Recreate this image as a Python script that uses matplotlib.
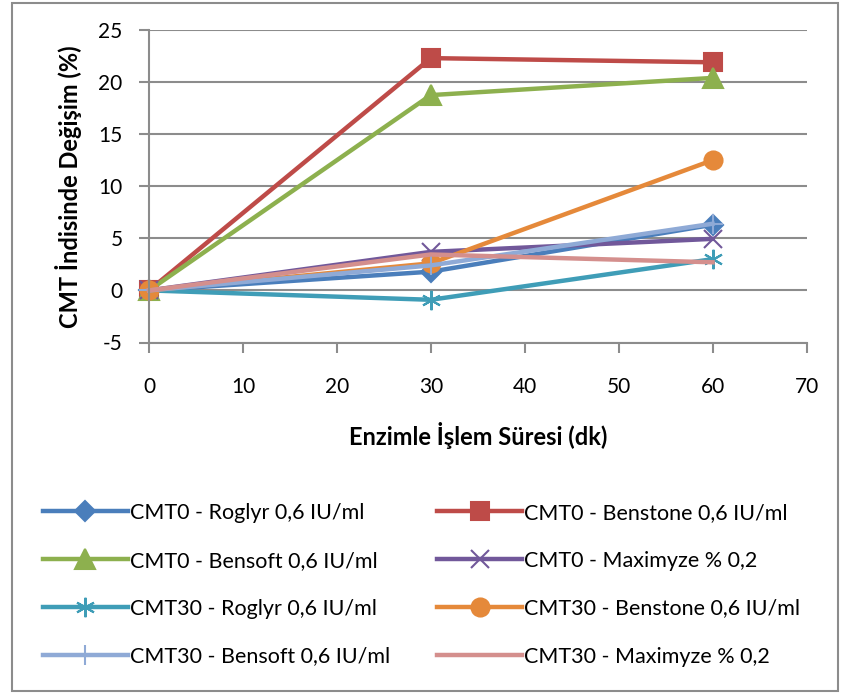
import matplotlib
matplotlib.use("Agg")
import matplotlib.pyplot as plt
from matplotlib.patches import Rectangle

plt.rcParams['font.family'] = ['Lato', 'DejaVu Sans']

time_min = [0, 30, 60]
labels = [
    "CMT0 - Roglyr 0,6 IU/ml",
    "CMT0 - Benstone 0,6 IU/ml",
    "CMT0 - Bensoft 0,6 IU/ml",
    "CMT0 - Maximyze % 0,2",
    "CMT30 - Roglyr 0,6 IU/ml",
    "CMT30 - Benstone 0,6 IU/ml",
    "CMT30 - Bensoft 0,6 IU/ml",
    "CMT30 - Maximyze % 0,2",
]
cmt0_roglyr = [0, 1.8, 6.3]
cmt0_benstone = [0, 22.3, 21.9]
cmt0_bensoft = [0, 18.75, 20.4]
cmt0_maximyze = [0, 3.7, 4.95]
cmt30_roglyr = [0, -0.9, 3.0]
cmt30_benstone = [0, 2.6, 12.5]
cmt30_bensoft = [0, 2.4, 6.4]
cmt30_maximyze = [0, 3.45, 2.7]
series = [cmt0_roglyr, cmt0_benstone, cmt0_bensoft, cmt0_maximyze,
          cmt30_roglyr, cmt30_benstone, cmt30_bensoft, cmt30_maximyze]
x_ticks = [0, 10, 20, 30, 40, 50, 60, 70]
y_ticks = [-5, 0, 5, 10, 15, 20, 25]

colors = ["#4A7EBB", "#BE4B48", "#8DB04E", "#71589A",
          "#3F9DB7", "#E5893A", "#8FAAD6", "#D48F8D"]
markers = ["D", "s", "^", "x", (6, 2, 0), "o", "+", None]
msizes = [10, 13, 14, 13, 14, 13, 14, 0]

W, H = 842, 693
fig = plt.figure(figsize=(W / 100, H / 100), dpi=100)
fig.patches.append(Rectangle((12 / W, 2 / H), (838 - 12) / W, (690 - 2) / H,
                             transform=fig.transFigure, fill=False,
                             edgecolor="#8C8C8C", linewidth=1.5))
ax = fig.add_axes([149 / W, 1 - 342.5 / H, (806.5 - 149) / W, (342.5 - 30) / H])

handles = []
for ys, lab, c, m, ms in zip(series, labels, colors, markers, msizes):
    h, = ax.plot(time_min, ys, color=c, linewidth=3.2, marker=m, markersize=ms,
                 markeredgecolor=c, markerfacecolor=c, markeredgewidth=1.5,
                 label=lab, clip_on=False)
    handles.append(h)

ax.set_xlim(0, 70)
ax.set_ylim(-5, 25)
ax.set_xticks(x_ticks)
ax.set_yticks(y_ticks)
ax.set_xticklabels([str(v) for v in x_ticks], fontsize=15)
ax.set_yticklabels([str(v) for v in y_ticks], fontsize=15)
ax.yaxis.grid(True, color="#8C8C8C", linewidth=1.5)
ax.set_axisbelow(True)
for s in ["top", "right"]:
    ax.spines[s].set_visible(False)
for s in ["left", "bottom"]:
    ax.spines[s].set_color("#8C8C8C")
    ax.spines[s].set_linewidth(1.5)
ax.tick_params(axis="both", direction="out", length=7, width=1.5, color="#8C8C8C")
ax.tick_params(axis="y", pad=12)
ax.tick_params(axis="x", pad=18)

ax.set_xlabel("Enzimle İşlem Süresi (dk)", fontsize=17, fontweight="bold", labelpad=18)
ax.set_ylabel("CMT İndisinde Değişim (%)", fontsize=17, fontweight="bold", labelpad=12)

order = [0, 2, 4, 6, 1, 3, 5, 7]
leg = fig.legend([handles[i] for i in order], [labels[i] for i in order],
                 loc="upper left", bbox_to_anchor=(34 / W, 1 - 494 / H), ncol=2,
                 frameon=False, fontsize=15.5, handlelength=3.95, handletextpad=0.1,
                 columnspacing=2.2, labelspacing=1.3, borderaxespad=0)

fig.savefig("out.png", dpi=100)
